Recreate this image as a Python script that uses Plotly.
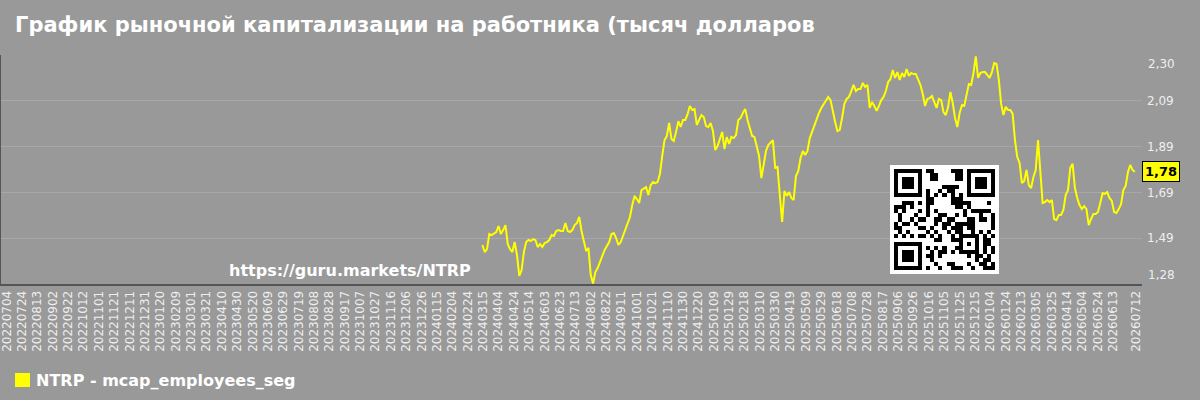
import plotly.graph_objects as go
import pandas as pd

# ---------------- data ----------------
series_name = "NTRP - mcap_employees_seg"
title_text = "График рыночной капитализации на работника (тысяч долларов"
watermark = "https://guru.markets/NTRP"

start_date = "2024-03-14"
step = "3D"
values = [
    1.456, 1.425, 1.438, 1.505, 1.500, 1.505, 1.513, 1.540, 1.505, 1.522,
    1.544, 1.460, 1.438, 1.425, 1.469, 1.412, 1.319, 1.345, 1.425, 1.469,
    1.478, 1.474, 1.482, 1.478, 1.447, 1.460, 1.447, 1.465, 1.469, 1.478,
    1.500, 1.496, 1.518, 1.522, 1.518, 1.518, 1.553, 1.518, 1.513, 1.522,
    1.544, 1.553, 1.580, 1.518, 1.469, 1.429, 1.443, 1.323, 1.286, 1.336,
    1.354, 1.381, 1.407, 1.434, 1.452, 1.469, 1.505, 1.509, 1.487, 1.456,
    1.469, 1.496, 1.527, 1.553, 1.580, 1.633, 1.673, 1.659, 1.642, 1.699,
    1.704, 1.712, 1.677, 1.721, 1.735, 1.730, 1.735, 1.770, 1.850, 1.920,
    1.938, 1.996, 1.925, 1.916, 1.956, 2.004, 1.978, 2.009, 2.009, 2.035,
    2.071, 2.053, 2.058, 1.987, 2.009, 2.031, 2.022, 1.982, 1.978, 1.996,
    1.960, 1.876, 1.894, 1.929, 1.956, 1.880, 1.934, 1.903, 1.934, 1.929,
    1.942, 2.009, 2.018, 2.040, 2.058, 2.009, 1.969, 1.938, 1.934, 1.889,
    1.850, 1.752, 1.819, 1.872, 1.898, 1.911, 1.920, 1.797, 1.801, 1.677,
    1.558, 1.695, 1.673, 1.690, 1.664, 1.655, 1.761, 1.783, 1.841, 1.872,
    1.854, 1.872, 1.929, 1.956, 1.987, 2.009, 2.040, 2.062, 2.080, 2.093,
    2.111, 2.097, 2.040, 2.000, 1.960, 1.965, 2.018, 2.080, 2.102, 2.111,
    2.137, 2.164, 2.137, 2.146, 2.146, 2.173, 2.155, 2.164, 2.062, 2.089,
    2.071, 2.049, 2.071, 2.097, 2.111, 2.137, 2.177, 2.190, 2.230, 2.195,
    2.221, 2.186, 2.217, 2.199, 2.234, 2.204, 2.217, 2.212, 2.212, 2.190,
    2.164, 2.124, 2.071, 2.102, 2.106, 2.115, 2.089, 2.062, 2.102, 2.097,
    2.044, 2.031, 2.067, 2.133, 2.084, 2.018, 1.978, 2.040, 2.075, 2.071,
    2.120, 2.168, 2.164, 2.217, 2.290, 2.195, 2.217, 2.221, 2.221, 2.208,
    2.195, 2.221, 2.261, 2.257, 2.186, 2.080, 2.031, 2.067, 2.053, 2.053,
    2.036, 1.920, 1.845, 1.819, 1.730, 1.739, 1.788, 1.721, 1.708, 1.757,
    1.788, 1.920, 1.766, 1.642, 1.646, 1.655, 1.646, 1.655, 1.571, 1.566,
    1.589, 1.589, 1.611, 1.677, 1.699, 1.797, 1.815, 1.708, 1.664, 1.633,
    1.615, 1.628, 1.615, 1.544, 1.571, 1.593, 1.593, 1.602, 1.642, 1.686,
    1.682, 1.690, 1.664, 1.651, 1.602, 1.598, 1.615, 1.637, 1.699, 1.717,
    1.779, 1.810, 1.788, 1.780,
]
dates = pd.date_range(start=start_date, periods=len(values), freq=step)

tick_dates = list(pd.date_range("2022-07-04", "2026-06-13", freq="20D")) + [pd.Timestamp("2026-07-12")]
tick_labels = [d.strftime("%Y%m%d") for d in tick_dates]

y_tick_vals = [1.2835, 1.4861, 1.6887, 1.8913, 2.0939, 2.2965]
y_tick_labels = ["1,28", "1,49", "1,69", "1,89", "2,09", "2,30"]
last_label = "1,78"

# ---------------- style ----------------
BG = "#999999"
GRID = "#a7a7a7"
AXIS = "#555555"
TXT = "#eeeeee"
LINE = "#ffff00"
FONT = "DejaVu Sans"

W, H = 1200, 400
ML, MR, MT, MB = 0, 58, 55, 116
PW = W - ML - MR
PH = H - MT - MB


def px_x(p):
    return (p - ML) / PW


def px_y(p):
    return (H - MB - p) / PH


fig = go.Figure()
fig.add_trace(go.Scatter(
    x=dates, y=values, mode="lines",
    line=dict(color=LINE, width=2),
    name=series_name, showlegend=False,
))

# QR-like decoration (pattern only, not data)
N = 25
qr = [[0] * N for _ in range(N)]


def finder(r0, c0):
    for r in range(7):
        for c in range(7):
            on = r in (0, 6) or c in (0, 6) or (2 <= r <= 4 and 2 <= c <= 4)
            qr[r0 + r][c0 + c] = 1 if on else 0


finder(0, 0)
finder(0, N - 7)
finder(N - 7, 0)
for i in range(8, N - 8):
    qr[6][i] = 1 if i % 2 == 0 else 0
    qr[i][6] = 1 if i % 2 == 0 else 0
for r in range(5):
    for c in range(5):
        on = r in (0, 4) or c in (0, 4) or (r == 2 and c == 2)
        qr[16 + r][16 + c] = 1 if on else 0
reserved = set()
for r in range(N):
    for c in range(N):
        if (r < 8 and c < 8) or (r < 8 and c >= N - 8) or (r >= N - 8 and c < 8):
            reserved.add((r, c))
        if r == 6 or c == 6:
            reserved.add((r, c))
        if 16 <= r <= 20 and 16 <= c <= 20:
            reserved.add((r, c))
for r in range(N):
    for c in range(N):
        if (r, c) not in reserved:
            qr[r][c] = 1 if ((r * r * 3 + c * 7 + r * c * 5 + (r ^ c)) % 7) < 3 else 0
z = [[0] * (N + 2)] + [[0] + row + [0] for row in qr] + [[0] * (N + 2)]
fig.add_trace(go.Heatmap(
    z=z, xaxis="x2", yaxis="y2", showscale=False, hoverinfo="skip",
    colorscale=[[0, "#ffffff"], [1, "#000000"]], zmin=0, zmax=1,
))

fig.update_layout(
    width=W, height=H,
    margin=dict(l=ML, r=MR, t=MT, b=MB),
    paper_bgcolor=BG, plot_bgcolor=BG,
    showlegend=False,
    font=dict(family=FONT, color=TXT),
    xaxis=dict(
        type="date",
        range=["2022-06-25 07:00", "2026-07-20 07:00"],
        tickmode="array", tickvals=tick_dates, ticktext=tick_labels,
        tickangle=-90, tickfont=dict(size=12, color=TXT, family=FONT),
        ticklabeloverflow="allow",
        showgrid=False, zeroline=False,
        showline=True, linecolor=AXIS, linewidth=2, ticks="",
    ),
    yaxis=dict(
        side="right",
        range=[y_tick_vals[0], y_tick_vals[-1]],
        tickmode="array", tickvals=y_tick_vals,
        ticktext=[""] + y_tick_labels[1:-1] + [""],
        tickfont=dict(size=12, color=TXT, family=FONT),
        showgrid=True, gridcolor=GRID, gridwidth=1,
        zeroline=False, showline=False, ticks="",
        ticklabelstandoff=4,
    ),
    xaxis2=dict(domain=[px_x(890), px_x(999)], anchor="y2", visible=False,
                range=[-0.5, N + 1.5]),
    yaxis2=dict(domain=[px_y(274), px_y(165)], anchor="x2", visible=False,
                range=[N + 1.5, -0.5]),
)

fig.add_shape(type="line", xref="paper", yref="paper", x0=0, x1=0, y0=0, y1=1,
              line=dict(color=AXIS, width=2))

annotations = [
    dict(text=f"<b>{title_text}</b>", xref="paper", yref="paper",
         x=px_x(13), y=px_y(25), xanchor="left", yanchor="middle",
         showarrow=False, font=dict(size=21, color="#ffffff", family=FONT)),
    dict(text=f"<b>{watermark}</b>", xref="paper", yref="paper",
         x=px_x(349.5), y=px_y(270), xanchor="center", yanchor="middle",
         showarrow=False, font=dict(size=16, color="#ffffff", family=FONT)),
    dict(text=y_tick_labels[-1], xref="paper", yref="paper",
         x=1, y=px_y(64), xanchor="left", yanchor="middle", xshift=4,
         showarrow=False, font=dict(size=12, color=TXT, family=FONT)),
    dict(text=y_tick_labels[0], xref="paper", yref="paper",
         x=1, y=px_y(275), xanchor="left", yanchor="middle", xshift=4,
         showarrow=False, font=dict(size=12, color=TXT, family=FONT)),
    dict(text=f"<b>{last_label}</b>", xref="paper", yref="y",
         x=1, y=values[-1], xanchor="left", yanchor="middle",
         showarrow=False, bgcolor=LINE, bordercolor="#000000", borderwidth=1,
         borderpad=2, font=dict(size=13, color="#000000", family=FONT)),
    dict(text=f"<b>{series_name}</b>", xref="paper", yref="paper",
         x=px_x(34), y=px_y(380), xanchor="left", yanchor="middle",
         showarrow=False, font=dict(size=16, color="#ffffff", family=FONT)),
]
fig.update_layout(annotations=annotations)
fig.add_shape(type="rect", xref="paper", yref="paper",
              x0=px_x(15), x1=px_x(30), y0=px_y(387), y1=px_y(373),
              fillcolor=LINE, line=dict(width=0))

fig.write_html("out.html")
